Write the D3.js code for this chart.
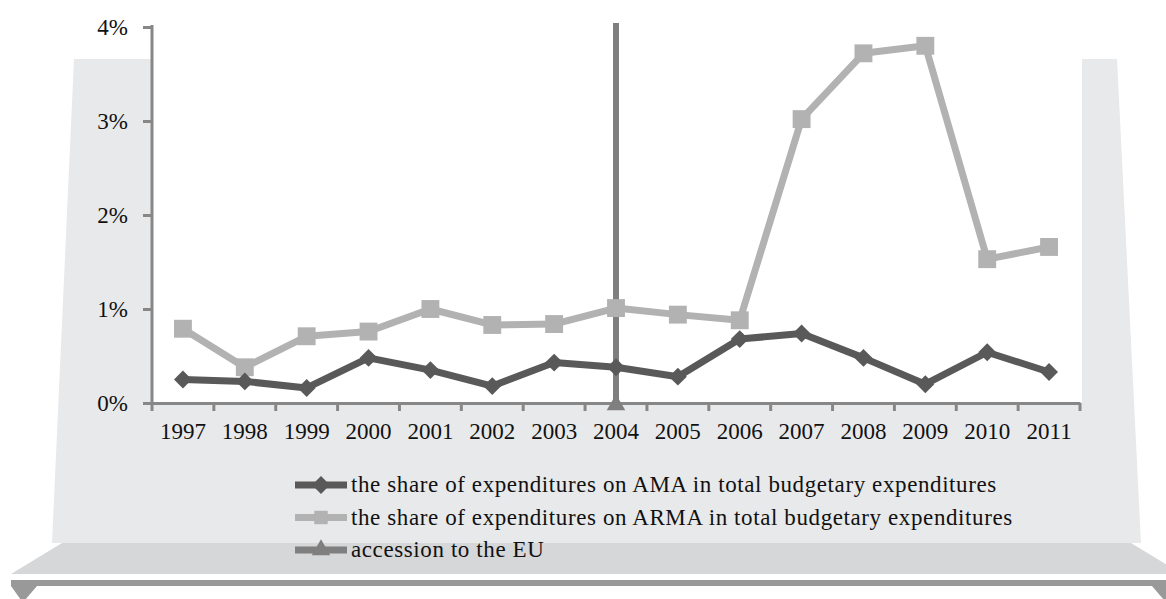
<!DOCTYPE html>
<html>
<head>
<meta charset="utf-8">
<script src="https://cdn.jsdelivr.net/npm/d3@7"></script>
<style>
  body { margin: 0; background: #fff; }
  svg { display: block; }
  svg text { font-family: "Liberation Serif", "Times New Roman", "DejaVu Serif", serif; fill: #111; }
</style>
</head>
<body>
<div id="chart"></div>
<script>

// data (shares of total budgetary expenditures)
var years = ["1997", "1998", "1999", "2000", "2001", "2002", "2003", "2004",
             "2005", "2006", "2007", "2008", "2009", "2010", "2011"];
var amaShare = [0.0025, 0.0023, 0.0016, 0.0048, 0.0035, 0.0018, 0.0043, 0.0038,
                0.0028, 0.0068, 0.0074, 0.0048, 0.0020, 0.0054, 0.0033];
var armaShare = [0.0079, 0.0038, 0.0071, 0.0076, 0.0100, 0.0083, 0.0084, 0.0101,
                 0.0094, 0.0088, 0.0302, 0.0372, 0.0380, 0.0153, 0.0166];
var accessionYear = "2004";
var accessionRange = [0, 0.04];
var yTicks = [0, 0.01, 0.02, 0.03, 0.04];
var legendLabels = [
  "the share of expenditures on AMA in total budgetary expenditures",
  "the share of expenditures on ARMA in total budgetary expenditures",
  "accession to the EU"
];

var cfg = {
  width: 1166,
  height: 599,
  plot: { left: 152, right: 1080, top: 27, bottom: 403 },
  font: "'Liberation Serif', 'Times New Roman', serif",
  fontSize: 23,
  dark: "#595959",
  light: "#b2b2b2",
  mid: "#7f7f7f",
  axis: "#878787",
  wall: "#e8e9eb",
  floor: "#d6d7d9",
  base: "#999999"
};

var svg = d3.select("#chart").append("svg")
    .attr("width", cfg.width)
    .attr("height", cfg.height);

////////////////////////////////////////////////////////
// Walls and floor /////////////////////////////////////
////////////////////////////////////////////////////////

svg.append("polygon")
    .attr("points", [[74, 59], [1117, 59], [1141, 543], [52, 543]].join(" "))
    .attr("fill", cfg.wall);

// white plot area sitting on top of the wall
svg.append("rect")
    .attr("x", cfg.plot.left)
    .attr("y", 0)
    .attr("width", 1082 - cfg.plot.left)
    .attr("height", cfg.plot.bottom)
    .attr("fill", "#fff");

svg.append("polygon")
    .attr("points", [[62, 543], [1131, 543], [1182, 574], [11, 574]].join(" "))
    .attr("fill", cfg.floor);

svg.append("rect")
    .attr("x", 11).attr("y", 580)
    .attr("width", 1171).attr("height", 6)
    .attr("fill", cfg.base);

svg.append("polygon")
    .attr("points", [[11, 586], [37, 586], [25, 600], [21, 600]].join(" "))
    .attr("fill", cfg.base);
svg.append("polygon")
    .attr("points", [[1152, 586], [1178, 586], [1168, 600], [1164, 600]].join(" "))
    .attr("fill", cfg.base);

////////////////////////////////////////////////////////
// Scales and axes /////////////////////////////////////
////////////////////////////////////////////////////////

var x = d3.scaleBand()
    .domain(years)
    .range([cfg.plot.left, cfg.plot.right])
    .padding(0);

var y = d3.scaleLinear()
    .domain([0, 0.04])
    .range([cfg.plot.bottom, cfg.plot.top]);

function cx(d) { return x(d) + x.bandwidth() / 2; }

var yAxis = svg.append("g")
    .attr("transform", "translate(" + cfg.plot.left + ",0)")
    .call(d3.axisLeft(y).tickValues(yTicks).tickFormat(d3.format(".0%"))
      .tickSize(9).tickPadding(15).tickSizeOuter(0));
yAxis.attr("font-family", null);
yAxis.select(".domain").attr("stroke", cfg.axis).attr("stroke-width", 3)
    .attr("d", "M0," + (cfg.plot.top - 2) + "V" + (cfg.plot.bottom + 1));
yAxis.selectAll(".tick line").attr("stroke", cfg.axis).attr("stroke-width", 3);
yAxis.selectAll(".tick text")
    .style("font-family", cfg.font)
    .style("font-size", cfg.fontSize + "px");

var xAxis = svg.append("g")
    .attr("transform", "translate(0," + cfg.plot.bottom + ")")
    .call(d3.axisBottom(x).tickSize(0).tickPadding(20).tickSizeOuter(0));
xAxis.attr("font-family", null);
xAxis.select(".domain").attr("stroke", cfg.axis).attr("stroke-width", 3);
xAxis.selectAll(".tick text")
    .style("font-family", cfg.font)
    .style("font-size", cfg.fontSize + "px");

// tick marks sit on the category boundaries
var bounds = years.map(function(d) { return x(d); }).concat([cfg.plot.right]);
xAxis.selectAll(".bound")
    .data(bounds)
    .enter().append("line")
    .attr("class", "bound")
    .attr("x1", function(d) { return d; })
    .attr("x2", function(d) { return d; })
    .attr("y1", 0).attr("y2", 8)
    .attr("stroke", cfg.axis)
    .attr("stroke-width", 3);

////////////////////////////////////////////////////////
// Series //////////////////////////////////////////////
////////////////////////////////////////////////////////

var line = d3.line()
    .x(function(d, i) { return cx(years[i]); })
    .y(function(d) { return y(d); });

var diamond = d3.symbol().type(d3.symbolSquare).size(160);
var square = d3.symbol().type(d3.symbolSquare).size(320);
var triangle = d3.symbol().type(d3.symbolTriangle).size(150);

// accession line
svg.append("line")
    .attr("x1", cx(accessionYear)).attr("x2", cx(accessionYear))
    .attr("y1", y(accessionRange[1]) - 4).attr("y2", y(accessionRange[0]))
    .attr("stroke", cfg.mid)
    .attr("stroke-width", 6);

svg.append("path")
    .attr("d", line(armaShare))
    .attr("fill", "none")
    .attr("stroke", cfg.light)
    .attr("stroke-width", 7)
    .attr("stroke-linejoin", "round");

svg.selectAll(".arma")
    .data(armaShare)
    .enter().append("path")
    .attr("class", "arma")
    .attr("d", square)
    .attr("transform", function(d, i) { return "translate(" + cx(years[i]) + "," + y(d) + ")"; })
    .attr("fill", cfg.light);

svg.append("path")
    .attr("d", line(amaShare))
    .attr("fill", "none")
    .attr("stroke", cfg.dark)
    .attr("stroke-width", 7)
    .attr("stroke-linejoin", "round");

svg.selectAll(".ama")
    .data(amaShare)
    .enter().append("path")
    .attr("class", "ama")
    .attr("d", diamond)
    .attr("transform", function(d, i) { return "translate(" + cx(years[i]) + "," + y(d) + ") rotate(45)"; })
    .attr("fill", cfg.dark);

svg.append("path")
    .attr("d", triangle)
    .attr("transform", "translate(" + cx(accessionYear) + "," + (y(accessionRange[0]) + 2) + ")")
    .attr("fill", cfg.mid);

////////////////////////////////////////////////////////
// Legend //////////////////////////////////////////////
////////////////////////////////////////////////////////

var legendRows = [
  { label: legendLabels[0], color: cfg.dark, sym: diamond, rot: 45 },
  { label: legendLabels[1], color: cfg.light, sym: square, rot: 0, scale: 0.75 },
  { label: legendLabels[2], color: cfg.mid, sym: triangle, rot: 0 }
];

var legend = svg.append("g").selectAll("g")
    .data(legendRows)
    .enter().append("g")
    .attr("transform", function(d, i) { return "translate(295," + (485 + i * 32.5) + ")"; });

legend.append("line")
    .attr("x1", 0).attr("x2", 52)
    .attr("stroke", function(d) { return d.color; })
    .attr("stroke-width", 7);

legend.append("path")
    .attr("d", function(d) { return d.sym(); })
    .attr("transform", function(d) { return "translate(26,0) rotate(" + d.rot + ") scale(" + (d.scale || 1) + ")"; })
    .attr("fill", function(d) { return d.color; });

legend.append("text")
    .attr("x", 56)
    .attr("dy", "0.32em")
    .style("font-family", cfg.font)
    .style("font-size", cfg.fontSize + "px")
    .style("letter-spacing", "0.6px")
    .text(function(d) { return d.label; });

</script>
</body>
</html>
